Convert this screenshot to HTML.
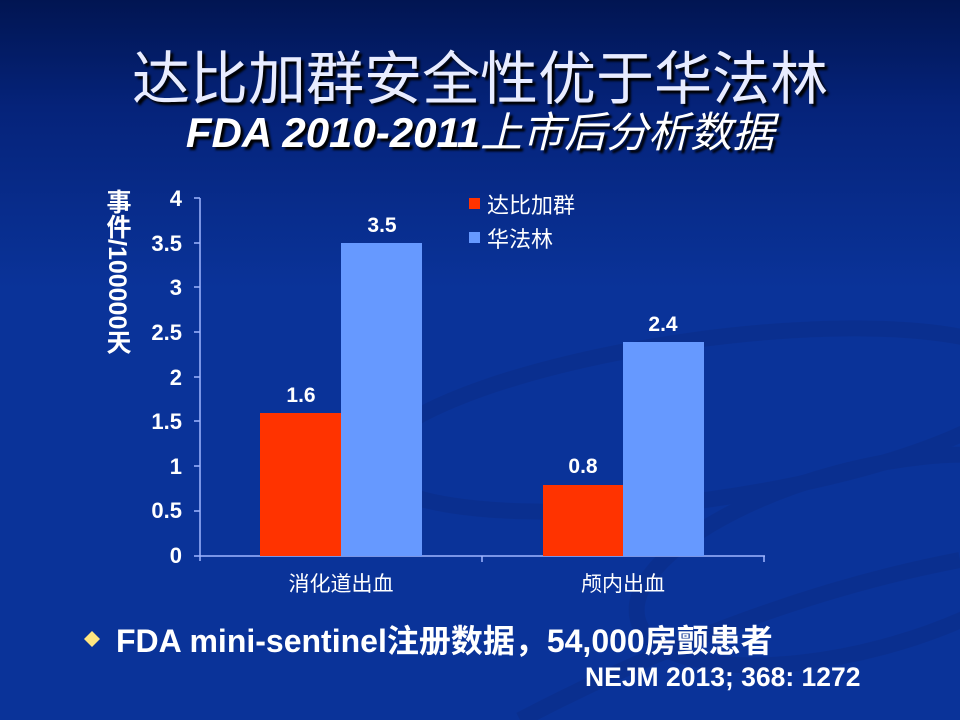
<!DOCTYPE html>
<html><head><meta charset="utf-8"><style>
body{margin:0;width:960px;height:720px;overflow:hidden;font-family:"Liberation Sans","Noto Sans CJK SC",sans-serif;}
#bg{position:absolute;left:0;top:0;width:960px;height:720px;background:linear-gradient(180deg,#011552 0%,#05237a 15%,#0a3399 40%,#0a3399 100%);}
.t{position:absolute;color:#fff;white-space:nowrap;}
</style></head><body>
<div id="bg"></div>
<svg width="960" height="720" style="position:absolute;left:0;top:0">
<g fill="none" stroke="#0b2e8a" stroke-width="16" opacity="0.6">
<ellipse cx="700" cy="420" rx="330" ry="80" transform="rotate(-8 700 420)"/>
<ellipse cx="860" cy="560" rx="230" ry="90" transform="rotate(-15 860 560)"/>
<path d="M520 720 Q750 600 960 560"/>
</g>
<g font-family="Liberation Sans, sans-serif" font-weight="bold" font-size="22" fill="#fff" text-anchor="end">
<text x="182" y="563">0</text><text x="182" y="518">0.5</text><text x="182" y="474">1</text>
<text x="182" y="429">1.5</text><text x="182" y="385">2</text><text x="182" y="340">2.5</text>
<text x="182" y="295">3</text><text x="182" y="251">3.5</text><text x="182" y="206">4</text>
</g>
<g stroke="#9fb6ff" stroke-width="1.5">
<line x1="200" y1="198" x2="200" y2="561"/>
<line x1="194" y1="556" x2="765" y2="556"/>
<line x1="194" y1="198" x2="200" y2="198"/><line x1="194" y1="243" x2="200" y2="243"/>
<line x1="194" y1="287" x2="200" y2="287"/><line x1="194" y1="332" x2="200" y2="332"/>
<line x1="194" y1="377" x2="200" y2="377"/><line x1="194" y1="421" x2="200" y2="421"/>
<line x1="194" y1="466" x2="200" y2="466"/><line x1="194" y1="511" x2="200" y2="511"/>
<line x1="482" y1="556" x2="482" y2="562"/><line x1="764" y1="556" x2="764" y2="562"/>
</g>
<rect x="260" y="413" width="81" height="143" fill="#ff3300"/>
<rect x="341" y="243" width="81" height="313" fill="#6699ff"/>
<rect x="543" y="485" width="80" height="71" fill="#ff3300"/>
<rect x="623" y="342" width="81" height="214" fill="#6699ff"/>
<g font-family="Liberation Sans, sans-serif" font-weight="bold" font-size="21" fill="#fff" text-anchor="middle">
<text x="301" y="402">1.6</text><text x="382" y="232">3.5</text>
<text x="583" y="473">0.8</text><text x="663" y="331">2.4</text>
</g>
<rect x="469" y="198" width="11" height="11" fill="#ff3300"/>
<rect x="469" y="232" width="11" height="11" fill="#6699ff"/>
<g font-family="Liberation Sans, Noto Sans CJK SC, sans-serif" font-size="22" fill="#fff">
<text x="487" y="213">达比加群</text><text x="487" y="247">华法林</text>
<text x="341" y="591" text-anchor="middle" font-size="21">消化道出血</text>
<text x="623" y="591" text-anchor="middle" font-size="21">颅内出血</text>
</g>
<polygon points="92,631 100,639 92,647 84,639" fill="#ffe680"/>
</svg>
<div class="t" style="left:103px;top:189px;writing-mode:vertical-rl;font-size:25px;font-weight:bold;line-height:28px;">事件/100000天</div>
<div class="t" style="left:0;width:960px;text-align:center;top:36px;font-size:58px;font-family:'Noto Sans CJK SC',sans-serif;color:#e8ecff;text-shadow:3px 3px 2px #000;line-height:76px;">达比加群安全性优于华法林</div>
<div class="t" style="left:0;width:960px;text-align:center;top:108px;font-size:42px;font-style:italic;font-weight:bold;text-shadow:3px 3px 2px #000;font-family:'Liberation Sans','Noto Sans CJK SC',sans-serif;line-height:50px;">FDA 2010-2011<span style="font-weight:normal">上市后分析数据</span></div>
<div class="t" style="left:116px;top:616px;font-size:32px;font-weight:bold;">FDA mini-sentinel注册数据，54,000房颤患者</div>
<div class="t" style="left:585px;top:662px;font-size:26.5px;font-weight:bold;">NEJM 2013; 368: 1272</div>
</body></html>
